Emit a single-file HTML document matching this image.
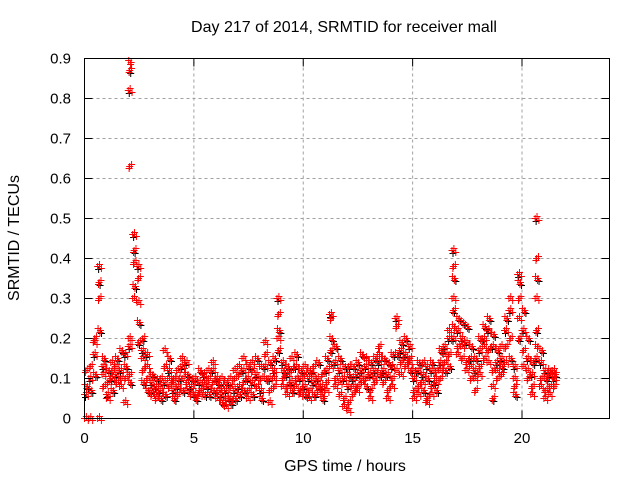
<!DOCTYPE html>
<html><head><meta charset="utf-8"><style>
body{margin:0;background:#fff}
svg{display:block;font-family:"Liberation Sans",sans-serif}
</style></head><body>
<svg id="chart" width="640" height="480">
<rect x="0" y="0" width="640" height="480" fill="#fff"/>
<g id="grid"></g>
<g id="points"></g>
<rect x="84.5" y="58.5" width="525" height="360" fill="none" stroke="#000"/>
<g id="ticks"></g>
<text x="344" y="32" text-anchor="middle" font-size="16">Day 217 of 2014, SRMTID for receiver mall</text>
<text x="345" y="471" text-anchor="middle" font-size="16">GPS time / hours</text>
<text x="19" y="238" text-anchor="middle" font-size="16" transform="rotate(-90 19 238)">SRMTID / TECUs</text>
</svg>
<script>
const xTicks=[0,5,10,15,20];
const yTicks=[0,0.1,0.2,0.3,0.4,0.5,0.6,0.7,0.8,0.9];
const yTickLabels=["0","0.1","0.2","0.3","0.4","0.5","0.6","0.7","0.8","0.9"];
const hours=[0,0.2,0.4,0.6,0.8,1,1.2,1.4,1.6,1.8,2,2.2,2.4,2.6,2.8,3,3.2,3.4,3.6,3.8,4,4.2,4.4,4.6,4.8,5,5.2,5.4,5.6,5.8,6,6.2,6.4,6.6,6.8,7,7.2,7.4,7.6,7.8,8,8.2,8.4,8.6,8.8,9,9.2,9.4,9.6,9.8,10,10.2,10.4,10.6,10.8,11,11.2,11.4,11.6,11.8,12,12.2,12.4,12.6,12.8,13,13.2,13.4,13.6,13.8,14,14.2,14.4,14.6,14.8,15,15.2,15.4,15.6,15.8,16,16.2,16.4,16.6,16.8,17,17.2,17.4,17.6,17.8,18,18.2,18.4,18.6,18.8,19,19.2,19.4,19.6,19.8,20,20.2,20.4,20.6,20.8,21,21.2,21.4];
const srmtid=[
[0.06,0.12,0.08,0],[0.1,0.13,0.07,0],[0.16,0.2,0.11,0.19],[0.38,0.3,0.22,0,0.34],[0.13,0.08,0.15,0.11],
[0.06,0.09,0.12,0.05],[0.1,0.12,0.07,0.14],[0.11,0.09,0.15,0.13],[0.12,0.1,0.17,0.08],[0.16,0.1,0.13,0.04],
[0.18,0.11,0.09,0.2,0.87,0.89,0.82,0.63],[0.46,0.39,0.33,0.3,0.42],[0.38,0.35,0.24,0.29,0.19],[0.17,0.12,0.09,0.15,0.2],[0.16,0.1,0.07,0.13],
[0.09,0.06,0.11,0.07],[0.08,0.05,0.1,0.06],[0.07,0.1,0.05,0.08],[0.09,0.13,0.06,0.17],[0.12,0.08,0.15,0.1],
[0.07,0.1,0.05,0.09],[0.08,0.06,0.1,0.12],[0.13,0.1,0.07,0.15],[0.14,0.09,0.11,0.07],[0.08,0.06,0.1,0.07],
[0.06,0.09,0.05,0.1],[0.09,0.07,0.12,0.06],[0.11,0.08,0.06,0.09],[0.08,0.1,0.06,0.12],[0.12,0.09,0.07,0.14],
[0.1,0.07,0.09,0.05],[0.06,0.08,0.04,0.1],[0.07,0.05,0.09,0.03],[0.05,0.08,0.04,0.1],[0.07,0.1,0.05,0.12],
[0.08,0.11,0.06,0.13],[0.12,0.09,0.07,0.15],[0.1,0.07,0.13,0.05],[0.09,0.12,0.06,0.14],[0.11,0.08,0.15,0.1],
[0.07,0.1,0.05,0.13],[0.13,0.16,0.1,0.19],[0.1,0.07,0.14,0.04],[0.12,0.08,0.15,0.1],[0.3,0.26,0.22,0.2,0.17],
[0.14,0.1,0.12,0.08],[0.11,0.08,0.13,0.06],[0.09,0.12,0.07,0.15],[0.13,0.1,0.16,0.08],[0.1,0.07,0.12,0.06],
[0.08,0.11,0.06,0.13],[0.1,0.07,0.12,0.05],[0.09,0.13,0.06,0.11],[0.1,0.07,0.14,0.08],[0.08,0.11,0.05,0.06],
[0.12,0.09,0.15,0.07],[0.26,0.25,0.2,0.13,0.17],[0.14,0.1,0.18,0.08],[0.12,0.06,0.15,0.09],[0.1,0.05,0.13,0.03],
[0.08,0.04,0.11,0.02,0.13],[0.1,0.06,0.13,0.08],[0.11,0.08,0.14,0.07],[0.12,0.09,0.16,0.1],[0.13,0.1,0.08,0.15],
[0.11,0.07,0.14,0.05],[0.12,0.09,0.15,0.1],[0.14,0.18,0.11,0.16],[0.12,0.09,0.15,0.11],[0.11,0.07,0.14,0.05],
[0.13,0.1,0.16,0.08],[0.25,0.23,0.16,0.12],[0.17,0.14,0.19,0.11],[0.16,0.13,0.2,0.15],[0.18,0.15,0.12,0.14],
[0.1,0.07,0.12,0.05],[0.12,0.08,0.14,0.06],[0.11,0.14,0.07,0.09],[0.13,0.05,0.1,0.04],[0.12,0.08,0.14,0.06],
[0.09,0.12,0.07,0.1],[0.14,0.1,0.17,0.12],[0.18,0.14,0.12,0.16],[0.2,0.16,0.13,0.22],[0.42,0.38,0.35,0.3,0.27,0.23,0.2],
[0.22,0.18,0.25,0.16],[0.2,0.15,0.24,0.18],[0.19,0.14,0.23,0.12],[0.15,0.1,0.18,0.13],[0.12,0.07,0.15,0.1],
[0.17,0.13,0.2,0.11],[0.2,0.15,0.23,0.18],[0.22,0.17,0.25,0.14],[0.18,0.12,0.21,0.08,0.05],[0.14,0.1,0.17,0.12],
[0.15,0.11,0.13,0.18],[0.22,0.18,0.25,0.14],[0.27,0.2,0.15,0.3],[0.13,0.08,0.06,0.1],[0.36,0.3,0.34,0.25,0.2],
[0.22,0.17,0.27,0.13],[0.15,0.1,0.2,0.12],[0.11,0.08,0.14,0.06],[0.5,0.4,0.35,0.3,0.22,0.18,0.15],[0.14,0.1,0.17,0.08],
[0.12,0.07,0.1,0.05],[0.11,0.08,0.12,0.06],[0.1,0.08,0.11,0.12]];
const NS="http://www.w3.org/2000/svg";
const X0=84.5,X1=609.5,Y0=418.5,Y1=58.5;
const xScale=h=>X0+h/24*(X1-X0);
const yScale=v=>Y0-v/0.9*(Y0-Y1);
const grid=document.getElementById('grid'),ticks=document.getElementById('ticks'),pts=document.getElementById('points');
function mk(tag,attrs,parent){const e=document.createElementNS(NS,tag);for(const k in attrs)e.setAttribute(k,attrs[k]);parent.appendChild(e);return e;}
yTicks.forEach((v,i)=>{const y=yScale(v);
 if(i>0&&i<yTicks.length-1){const g=mk('line',{x1:X0,x2:X1,y1:y,y2:y,stroke:'#a0a0a0','stroke-dasharray':'3,3'},grid);
 }
 mk('line',{x1:X0,x2:X0+8,y1:y,y2:y,stroke:'#000'},ticks);mk('line',{x1:X1,x2:X1-8,y1:y,y2:y,stroke:'#000'},ticks);
 const t=mk('text',{x:71,y:y+5,'text-anchor':'end','font-size':15},ticks);t.textContent=yTickLabels[i];
 });
xTicks.forEach(h=>{const x=xScale(h);
 if(h>0){const g=mk('line',{x1:x,x2:x,y1:Y0,y2:Y1,stroke:'#a0a0a0','stroke-dasharray':'3,3'},grid);
 }
 mk('line',{x1:x,x2:x,y1:Y0,y2:Y0-8,stroke:'#000'},ticks);mk('line',{x1:x,x2:x,y1:Y1,y2:Y1+8,stroke:'#000'},ticks);
 const t=mk('text',{x:x,y:443,'text-anchor':'middle','font-size':15},ticks);t.textContent=String(h);
 });
let d='',db='';
const offs=[0,0.067,0.133];
hours.forEach((h,i)=>{srmtid[i].forEach((v,j)=>{
 offs.forEach((o,k)=>{const x=xScale(h+offs[(j+k)%3]+o*0.3),y=yScale(v)+((k===1)?-2:(k===2?2:0));
  d+=`M${x-3.5},${y}h7M${x},${y-3.5}v7`;
  if(k===0&&j%2===0)db+=`M${x+1-3.5},${y+3}h7M${x+1},${y-0.5}v7`;});});});
const b=mk('path',{d:db,stroke:'#000','stroke-width':1,fill:'none'},pts);

const p=mk('path',{d:d,stroke:'#ff0000','stroke-width':1,fill:'none'},pts);

</script>
</body></html>
